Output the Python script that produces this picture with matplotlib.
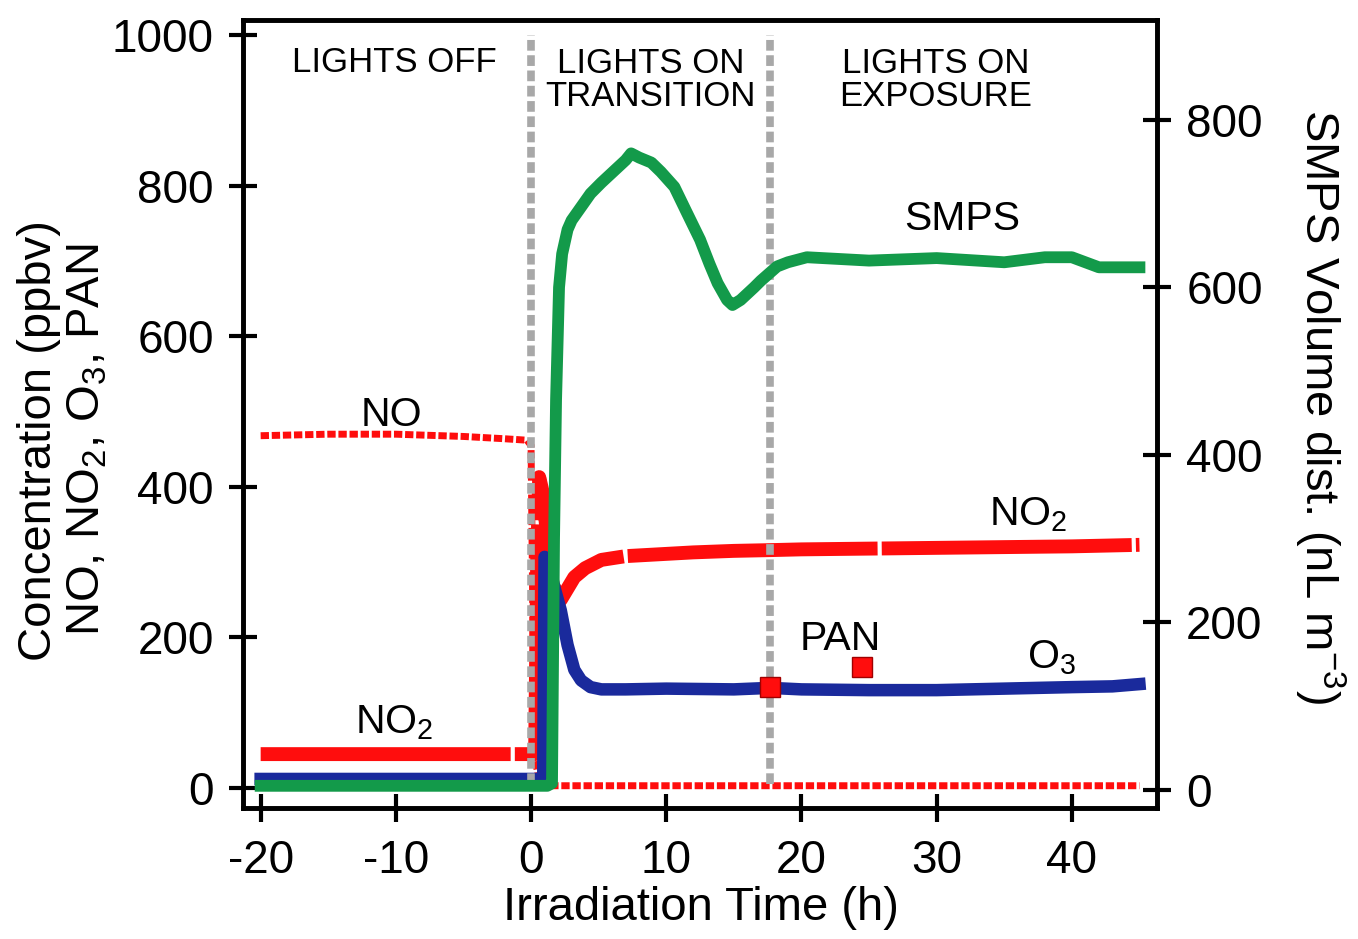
import numpy as np
import matplotlib.pyplot as plt

plt.rcParams['font.family'] = ['Liberation Sans', 'DejaVu Sans']
plt.rcParams['mathtext.fontset'] = 'custom'
plt.rcParams['mathtext.rm'] = 'Liberation Sans'
plt.rcParams['mathtext.it'] = 'Liberation Sans:italic'
plt.rcParams['mathtext.default'] = 'regular'
plt.rcParams['axes.unicode_minus'] = False

# values (time in h, concentrations in ppbv, SMPS in nL m-3)
no_t = [-20, -15, -10, -5, -2, -0.3, 0.0, 0.15, 0.3, 0.6, 1.0, 5, 10, 20, 30, 40, 45]
no_v = [468, 470, 470, 467, 464, 462, 455, 200, 40, 8, 3, 3, 3, 3, 3, 3, 3]

no2_t = [-20, -10, -1, 0.3, 0.45, 0.6, 0.9, 1.2, 1.6, 2.2, 3.2, 4.0, 5.2, 7.0,
         10, 12, 15, 17.7, 20, 25, 30, 35, 40, 45]
no2_v = [45, 45, 45, 45, 300, 413, 390, 330, 270, 250, 280, 292, 303, 308,
         311, 313, 315, 316, 317, 318, 319, 320, 321, 323]

o3_t = [-20, -10, 0, 0.9, 1.0, 1.3, 1.8, 2.2, 2.7, 3.2, 3.7, 4.4, 5.2, 7, 10, 15,
        17.7, 20, 25, 30, 35, 40, 43, 45]
o3_v = [12, 12, 12, 12, 307, 295, 262, 236, 190, 157, 143, 134, 131, 131, 132, 131,
        133, 131, 130, 130, 132, 134, 135, 138]

smps_t = [-20, -10, 0, 1.2, 1.55, 1.7, 1.85, 2.07, 2.3, 2.7, 3.0, 3.7, 4.4, 5.2,
          6.2, 7.0, 7.4, 8.0, 8.9, 9.6, 10.6, 11.5, 12.5, 13.2, 13.8, 14.5, 14.9,
          15.5, 16.5, 17.0, 18.2, 19.0, 20.4, 25, 30, 35, 38, 40, 42, 45]
smps_v = [5, 5, 5, 5, 8, 300, 466, 600, 640, 669, 680, 696, 712, 725,
          740, 752, 760, 755, 749, 738, 720, 690, 657, 628, 605, 585, 579,
          585, 600, 608, 625, 630, 636, 632, 635, 630, 636, 636, 624, 624]

pan_t = [17.7, 24.5]
pan_v = [134, 161]

phase_bounds = [0, 17.7]

red = '#ff0d0d'
blue = '#1a2a9c'
green = '#139a4a'
gray = '#a8a8a8'

fig = plt.figure(figsize=(13.58, 9.39), dpi=100)
ax = fig.add_axes([0.179, 0.1395, 0.673, 0.839])
ax2 = ax.twinx()

ax.plot(no_t, no_v, color=red, lw=5, ls=(0, (1.2, 0.4)), zorder=2)
ax.plot(no2_t, no2_v, color=red, lw=10, ls=(0, (18, 0.3)), zorder=2)
ax.plot(o3_t, o3_v, color=blue, lw=9, zorder=2.5)
ax.vlines(phase_bounds, 5, 1000, colors=gray, lw=5.5, linestyles=[(0, (1.4, 0.6))], zorder=3)
ax.plot(pan_t, pan_v, 's', ms=15, color=red, mec='#a00000', mew=1, zorder=4)

ax2.plot(smps_t, smps_v, color=green, lw=8.5)

ax.set_xlim(-21.3, 46.3)
ax.set_ylim(-26.6, 1020)
ax2.set_ylim(-21.5, 919)

ax.set_xticks([-20, -10, 0, 10, 20, 30, 40])
ax.set_yticks([0, 200, 400, 600, 800, 1000])
ax2.set_yticks([0, 200, 400, 600, 800])

for a in (ax, ax2):
    for s in a.spines.values():
        s.set_linewidth(3.3)
    a.tick_params(direction='inout', length=20, width=3, labelsize=33)
ax.tick_params(axis='y', pad=11)
ax.tick_params(axis='x', pad=12)
ax2.tick_params(axis='y', pad=11)

ax.set_xlabel('Irradiation Time (h)', fontsize=34)
ax.xaxis.set_label_coords(0.501, -0.099)
ax.set_ylabel('Concentration (ppbv)\nNO, NO$_2$, O$_3$, PAN', fontsize=34, linespacing=1.15)
ax.yaxis.set_label_coords(-0.146, 0.467)
ax2.set_ylabel('SMPS Volume dist. (nL m$^{-3}$)', fontsize=34, rotation=270, va='bottom')
ax2.yaxis.set_label_coords(1.148, 0.51)

# phase labels
ax.text(-10.1, 964, 'LIGHTS OFF', fontsize=25, ha='center', va='center')
ax.text(8.85, 941, 'LIGHTS ON\nTRANSITION', fontsize=25, ha='center', va='center', linespacing=1.0)
ax.text(29.9, 941, 'LIGHTS ON\nEXPOSURE', fontsize=25, ha='center', va='center', linespacing=1.0)

# series labels
ax.text(-10.3, 481, 'NO', fontsize=29.5, ha='center', va='baseline')
ax.text(-10.1, 73, 'NO$_2$', fontsize=29.5, ha='center', va='baseline')
ax.text(36.8, 349, 'NO$_2$', fontsize=29.5, ha='center', va='baseline')
ax.text(31.9, 741, 'SMPS', fontsize=29.5, ha='center', va='baseline')
ax.text(22.9, 183, 'PAN', fontsize=29.5, ha='center', va='baseline')
ax.text(38.5, 159, 'O$_3$', fontsize=29.5, ha='center', va='baseline')

fig.savefig('out.png', dpi=100)
